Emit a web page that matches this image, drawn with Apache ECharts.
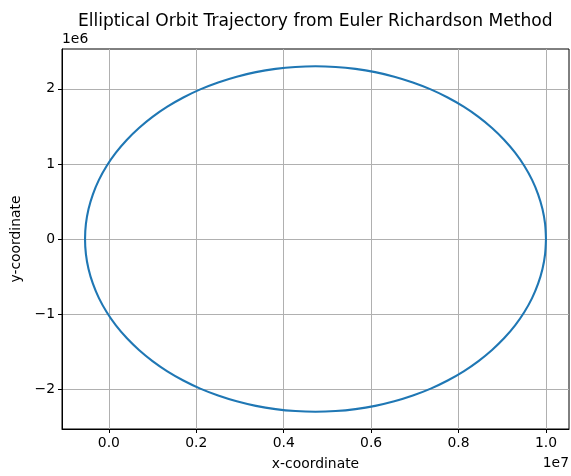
<!DOCTYPE html>
<html>
<head>
<meta charset="utf-8">
<script src="https://cdn.jsdelivr.net/npm/echarts@6/dist/echarts.min.js"></script>
<style>
  html, body { margin: 0; padding: 0; background: #fff; }
  #chart { width: 571px; height: 476px; }
</style>
</head>
<body>
<div id="chart"></div>
<script>
// Orbit samples (metres), counter-clockwise starting at x = 1e7, y = 0
const xs = [
  10000000, 9980000, 9920000, 9820000, 9682000, 9506000, 9294000, 9046000, 8766000, 8456000,
  8117000, 7751000, 7364000, 6955000, 6530000, 6092000, 5642000, 5187000, 4727000,
  4267000, 3812000, 3362000, 2924000, 2499000, 2090000, 1703000, 1337000, 998000,
  688000, 408000, 160000, -52000, -228000, -366000, -466000, -526000, -546000,
  -526000, -466000, -366000, -228000, -52000, 160000, 408000, 688000, 998000,
  1337000, 1703000, 2090000, 2499000, 2924000, 3362000, 3812000, 4267000, 4727000,
  5187000, 5642000, 6092000, 6530000, 6955000, 7364000, 7751000, 8117000, 8456000,
  8766000, 9046000, 9294000, 9506000, 9682000, 9820000, 9920000, 9980000, 10000000
];
const ys = [
  0, 200000, 399000, 595000, 787000, 972000, 1150000, 1319000, 1478000, 1626000,
  1762000, 1884000, 1992000, 2084000, 2161000, 2222000, 2265000, 2291000, 2300000,
  2291000, 2265000, 2222000, 2161000, 2084000, 1992000, 1884000, 1762000, 1626000,
  1478000, 1319000, 1150000, 972000, 787000, 595000, 399000, 200000, 0,
  -200000, -399000, -595000, -787000, -972000, -1150000, -1319000, -1478000, -1626000,
  -1762000, -1884000, -1992000, -2084000, -2161000, -2222000, -2265000, -2291000, -2300000,
  -2291000, -2265000, -2222000, -2161000, -2084000, -1992000, -1884000, -1762000, -1626000,
  -1478000, -1319000, -1150000, -972000, -787000, -595000, -399000, -200000, 0
];
const xTicks = [0, 2000000, 4000000, 6000000, 8000000, 10000000];
const yTicks = [-2000000, -1000000, 0, 1000000, 2000000];

const FONT = 'DejaVu Sans';
const points = xs.map((x, i) => [x, ys[i]]);

const chart = echarts.init(document.getElementById('chart'), null, { renderer: 'canvas' });
chart.setOption({
  animation: false,
  backgroundColor: '#ffffff',
  title: {
    text: 'Elliptical Orbit Trajectory from Euler Richardson Method',
    left: 310.3,
    textAlign: 'center',
    top: 8,
    textStyle: { fontFamily: FONT, fontSize: 17.1, fontWeight: 'normal', color: '#000' }
  },
  grid: {
    left: 62, right: 2, top: 49, bottom: 47,
    show: true, borderColor: '#000', borderWidth: 1, backgroundColor: 'transparent'
  },
  xAxis: {
    type: 'value',
    min: -1073000,
    max: 10527000,
    name: 'x-coordinate',
    nameLocation: 'middle',
    nameGap: 28,
    nameTextStyle: { fontFamily: FONT, fontSize: 13.9, color: '#000' },
    axisLine: { show: true, onZero: false, lineStyle: { color: '#000', width: 1 } },
    axisTick: { show: true, length: 4, customValues: xTicks, lineStyle: { color: '#000' } },
    axisLabel: {
      customValues: xTicks,
      margin: 7,
      fontFamily: FONT, fontSize: 13.9, color: '#000',
      formatter: v => (v / 1e7).toFixed(1)
    },
    splitLine: { show: true, lineStyle: { color: '#b0b0b0', width: 1 } }
  },
  yAxis: {
    type: 'value',
    min: -2530000,
    max: 2530000,
    name: 'y-coordinate',
    nameLocation: 'middle',
    nameGap: 37,
    nameTextStyle: { fontFamily: FONT, fontSize: 13.9, color: '#000' },
    axisLine: { show: true, onZero: false, lineStyle: { color: '#000', width: 1 } },
    axisTick: { show: true, length: 4, customValues: yTicks, lineStyle: { color: '#000' } },
    axisLabel: {
      customValues: yTicks,
      margin: 7,
      fontFamily: FONT, fontSize: 13.9, color: '#000',
      formatter: v => {
        const n = Math.round(v / 1e6);
        return n < 0 ? '\u2212' + Math.abs(n) : String(n);
      }
    },
    splitLine: { show: true, lineStyle: { color: '#b0b0b0', width: 1 } }
  },
  graphic: [
    { type: 'text', left: 62, top: 32,
      style: { text: '1e6', font: '13.9px "DejaVu Sans"', fill: '#000' } },
    { type: 'text', right: 2, top: 456,
      style: { text: '1e7', font: '13.9px "DejaVu Sans"', fill: '#000' } }
  ],
  series: [{
    type: 'line',
    data: points,
    smooth: 0.3,
    showSymbol: false,
    clip: false,
    lineStyle: { color: '#1f77b4', width: 2.1 },
    z: 3
  }]
});
</script>
</body>
</html>
